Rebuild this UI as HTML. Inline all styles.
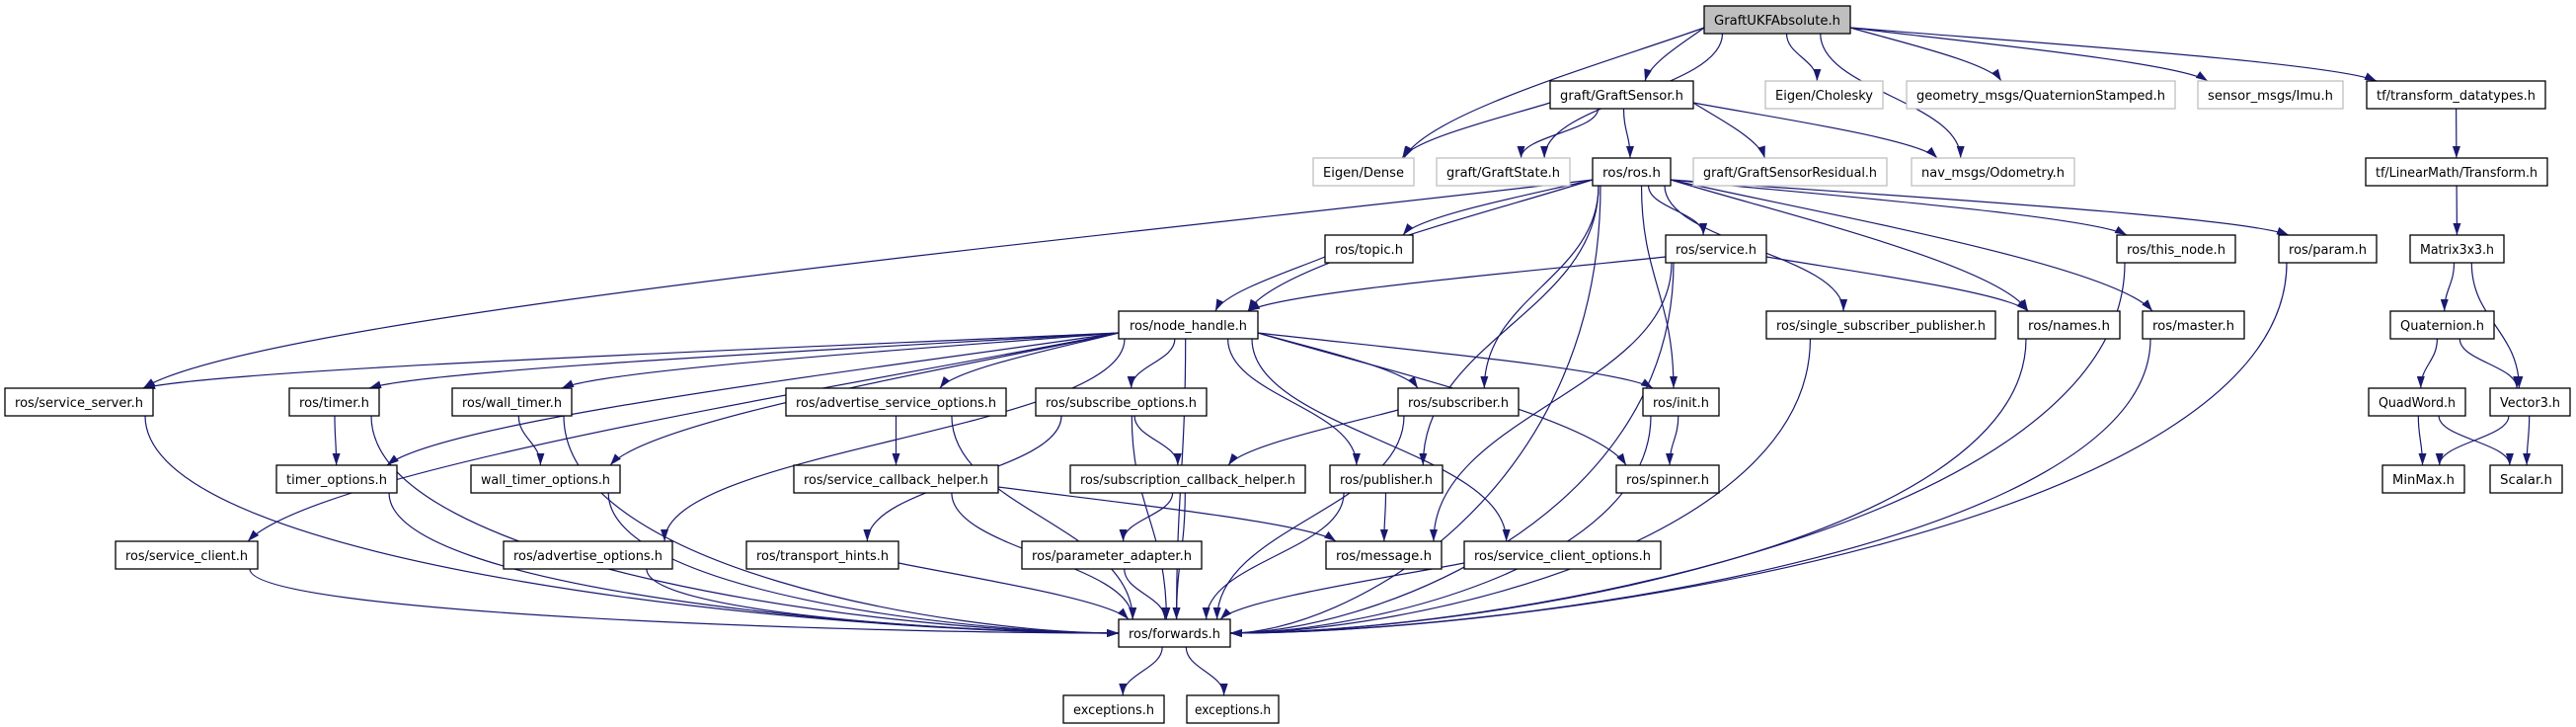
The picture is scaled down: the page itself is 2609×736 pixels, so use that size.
<!DOCTYPE html>
<html><head><meta charset="utf-8"><style>
html,body{margin:0;padding:0;background:#fff;}
svg{display:block}
text{font-family:"DejaVu Sans","Liberation Sans",sans-serif;font-size:13px;fill:#000}
.n{fill:#fff;stroke:#000;stroke-width:1.3}
.g{fill:#fff;stroke:#bfbfbf;stroke-width:1.3}
.r{fill:#bfbfbf;stroke:#000;stroke-width:1.3}
.e{fill:none;stroke:#191970;stroke-width:1.2}
</style></head><body>
<svg id="s" width="2609" height="736" viewBox="0 0 2609 736" xmlns="http://www.w3.org/2000/svg">
<defs><marker id="a" viewBox="0 0 12 8" refX="12" refY="4" markerWidth="12" markerHeight="8" markerUnits="userSpaceOnUse" orient="auto"><path d="M0,0L12,4L0,8z" fill="#191970"/></marker></defs>
<g id="edges"></g>
<g id="nodes">
<rect class="r" x="1726" y="6" width="148" height="28"/><text x="1800" y="25" text-anchor="middle" textLength="128" lengthAdjust="spacingAndGlyphs">GraftUKFAbsolute.h</text>
<rect class="n" x="1570" y="82" width="145" height="28"/><text x="1642.5" y="101" text-anchor="middle" textLength="125" lengthAdjust="spacingAndGlyphs">graft/GraftSensor.h</text>
<rect class="g" x="1788" y="82" width="119" height="28"/><text x="1847.5" y="101" text-anchor="middle" textLength="99" lengthAdjust="spacingAndGlyphs">Eigen/Cholesky</text>
<rect class="g" x="1931" y="82" width="272" height="28"/><text x="2067" y="101" text-anchor="middle" textLength="252" lengthAdjust="spacingAndGlyphs">geometry_msgs/QuaternionStamped.h</text>
<rect class="g" x="2226" y="82" width="147" height="28"/><text x="2299.5" y="101" text-anchor="middle" textLength="127" lengthAdjust="spacingAndGlyphs">sensor_msgs/Imu.h</text>
<rect class="n" x="2397" y="82" width="181" height="28"/><text x="2487.5" y="101" text-anchor="middle" textLength="161" lengthAdjust="spacingAndGlyphs">tf/transform_datatypes.h</text>
<rect class="g" x="1330" y="160" width="102" height="28"/><text x="1381" y="179" text-anchor="middle" textLength="82" lengthAdjust="spacingAndGlyphs">Eigen/Dense</text>
<rect class="g" x="1455" y="160" width="135" height="28"/><text x="1522.5" y="179" text-anchor="middle" textLength="115" lengthAdjust="spacingAndGlyphs">graft/GraftState.h</text>
<rect class="n" x="1613" y="160" width="79" height="28"/><text x="1652.5" y="179" text-anchor="middle" textLength="59" lengthAdjust="spacingAndGlyphs">ros/ros.h</text>
<rect class="g" x="1715" y="160" width="196" height="28"/><text x="1813" y="179" text-anchor="middle" textLength="176" lengthAdjust="spacingAndGlyphs">graft/GraftSensorResidual.h</text>
<rect class="g" x="1936" y="160" width="165" height="28"/><text x="2018.5" y="179" text-anchor="middle" textLength="145" lengthAdjust="spacingAndGlyphs">nav_msgs/Odometry.h</text>
<rect class="n" x="2396" y="160" width="184" height="28"/><text x="2488" y="179" text-anchor="middle" textLength="164" lengthAdjust="spacingAndGlyphs">tf/LinearMath/Transform.h</text>
<rect class="n" x="1342" y="238" width="89" height="28"/><text x="1386.5" y="257" text-anchor="middle" textLength="69" lengthAdjust="spacingAndGlyphs">ros/topic.h</text>
<rect class="n" x="1687" y="238" width="102" height="28"/><text x="1738" y="257" text-anchor="middle" textLength="82" lengthAdjust="spacingAndGlyphs">ros/service.h</text>
<rect class="n" x="2144" y="238" width="120" height="28"/><text x="2204" y="257" text-anchor="middle" textLength="100" lengthAdjust="spacingAndGlyphs">ros/this_node.h</text>
<rect class="n" x="2308" y="238" width="99" height="28"/><text x="2357.5" y="257" text-anchor="middle" textLength="79" lengthAdjust="spacingAndGlyphs">ros/param.h</text>
<rect class="n" x="2441" y="238" width="95" height="28"/><text x="2488.5" y="257" text-anchor="middle" textLength="75" lengthAdjust="spacingAndGlyphs">Matrix3x3.h</text>
<rect class="n" x="1133" y="315" width="141" height="28"/><text x="1203.5" y="334" text-anchor="middle" textLength="119" lengthAdjust="spacingAndGlyphs">ros/node_handle.h</text>
<rect class="n" x="1789" y="315" width="232" height="28"/><text x="1905" y="334" text-anchor="middle" textLength="212" lengthAdjust="spacingAndGlyphs">ros/single_subscriber_publisher.h</text>
<rect class="n" x="2044" y="315" width="103" height="28"/><text x="2095.5" y="334" text-anchor="middle" textLength="83" lengthAdjust="spacingAndGlyphs">ros/names.h</text>
<rect class="n" x="2170" y="315" width="103" height="28"/><text x="2221.5" y="334" text-anchor="middle" textLength="83" lengthAdjust="spacingAndGlyphs">ros/master.h</text>
<rect class="n" x="2421" y="315" width="105" height="28"/><text x="2473.5" y="334" text-anchor="middle" textLength="85" lengthAdjust="spacingAndGlyphs">Quaternion.h</text>
<rect class="n" x="5" y="393" width="150" height="28"/><text x="80" y="412" text-anchor="middle" textLength="130" lengthAdjust="spacingAndGlyphs">ros/service_server.h</text>
<rect class="n" x="293" y="393" width="91" height="28"/><text x="338.5" y="412" text-anchor="middle" textLength="71" lengthAdjust="spacingAndGlyphs">ros/timer.h</text>
<rect class="n" x="458" y="393" width="121" height="28"/><text x="518.5" y="412" text-anchor="middle" textLength="101" lengthAdjust="spacingAndGlyphs">ros/wall_timer.h</text>
<rect class="n" x="796" y="393" width="223" height="28"/><text x="907.5" y="412" text-anchor="middle" textLength="203" lengthAdjust="spacingAndGlyphs">ros/advertise_service_options.h</text>
<rect class="n" x="1049" y="393" width="173" height="28"/><text x="1135.5" y="412" text-anchor="middle" textLength="153" lengthAdjust="spacingAndGlyphs">ros/subscribe_options.h</text>
<rect class="n" x="1416" y="393" width="122" height="28"/><text x="1477" y="412" text-anchor="middle" textLength="102" lengthAdjust="spacingAndGlyphs">ros/subscriber.h</text>
<rect class="n" x="1664" y="393" width="77" height="28"/><text x="1702.5" y="412" text-anchor="middle" textLength="57" lengthAdjust="spacingAndGlyphs">ros/init.h</text>
<rect class="n" x="2399" y="393" width="98" height="28"/><text x="2448" y="412" text-anchor="middle" textLength="78" lengthAdjust="spacingAndGlyphs">QuadWord.h</text>
<rect class="n" x="2522" y="393" width="81" height="28"/><text x="2562.5" y="412" text-anchor="middle" textLength="61" lengthAdjust="spacingAndGlyphs">Vector3.h</text>
<rect class="n" x="280" y="471" width="122" height="28"/><text x="341" y="490" text-anchor="middle" textLength="102" lengthAdjust="spacingAndGlyphs">timer_options.h</text>
<rect class="n" x="477" y="471" width="151" height="28"/><text x="552.5" y="490" text-anchor="middle" textLength="131" lengthAdjust="spacingAndGlyphs">wall_timer_options.h</text>
<rect class="n" x="804" y="471" width="207" height="28"/><text x="907.5" y="490" text-anchor="middle" textLength="187" lengthAdjust="spacingAndGlyphs">ros/service_callback_helper.h</text>
<rect class="n" x="1084" y="471" width="238" height="28"/><text x="1203" y="490" text-anchor="middle" textLength="218" lengthAdjust="spacingAndGlyphs">ros/subscription_callback_helper.h</text>
<rect class="n" x="1347" y="471" width="114" height="28"/><text x="1404" y="490" text-anchor="middle" textLength="94" lengthAdjust="spacingAndGlyphs">ros/publisher.h</text>
<rect class="n" x="1637" y="471" width="104" height="28"/><text x="1689" y="490" text-anchor="middle" textLength="84" lengthAdjust="spacingAndGlyphs">ros/spinner.h</text>
<rect class="n" x="2413" y="471" width="83" height="28"/><text x="2454.5" y="490" text-anchor="middle" textLength="63" lengthAdjust="spacingAndGlyphs">MinMax.h</text>
<rect class="n" x="2522" y="471" width="73" height="28"/><text x="2558.5" y="490" text-anchor="middle" textLength="53" lengthAdjust="spacingAndGlyphs">Scalar.h</text>
<rect class="n" x="117" y="548" width="144" height="28"/><text x="189" y="567" text-anchor="middle" textLength="124" lengthAdjust="spacingAndGlyphs">ros/service_client.h</text>
<rect class="n" x="510" y="548" width="171" height="28"/><text x="595.5" y="567" text-anchor="middle" textLength="151" lengthAdjust="spacingAndGlyphs">ros/advertise_options.h</text>
<rect class="n" x="756" y="548" width="154" height="28"/><text x="833" y="567" text-anchor="middle" textLength="134" lengthAdjust="spacingAndGlyphs">ros/transport_hints.h</text>
<rect class="n" x="1035" y="548" width="182" height="28"/><text x="1126" y="567" text-anchor="middle" textLength="162" lengthAdjust="spacingAndGlyphs">ros/parameter_adapter.h</text>
<rect class="n" x="1343" y="548" width="117" height="28"/><text x="1401.5" y="567" text-anchor="middle" textLength="97" lengthAdjust="spacingAndGlyphs">ros/message.h</text>
<rect class="n" x="1483" y="548" width="199" height="28"/><text x="1582.5" y="567" text-anchor="middle" textLength="179" lengthAdjust="spacingAndGlyphs">ros/service_client_options.h</text>
<rect class="n" x="1133" y="627" width="113" height="28"/><text x="1189.5" y="646" text-anchor="middle" textLength="93" lengthAdjust="spacingAndGlyphs">ros/forwards.h</text>
<rect class="n" x="1077" y="704" width="102" height="28"/><text x="1128" y="723" text-anchor="middle" textLength="82" lengthAdjust="spacingAndGlyphs">exceptions.h</text>
<rect class="n" x="1202" y="704" width="93" height="28"/><text x="1248.5" y="723" text-anchor="middle" textLength="77" lengthAdjust="spacingAndGlyphs">exceptions.h</text>
</g>
</svg>
<script>
var N={root:[1726,1874,6,34],gsensor:[1570,1715,82,110],chol:[1788,1907,82,110],geom:[1931,2203,82,110],imu:[2226,2373,82,110],tfdt:[2397,2578,82,110],
dense:[1330,1432,160,188],gstate:[1455,1590,160,188],ros:[1613,1692,160,188],resid:[1715,1911,160,188],odom:[1936,2101,160,188],transform:[2396,2580,160,188],
topic:[1342,1431,238,266],service:[1687,1789,238,266],thisnode:[2144,2264,238,266],param:[2308,2407,238,266],m3:[2441,2536,238,266],
nh:[1133,1274,315,343],ssp:[1789,2021,315,343],names:[2044,2147,315,343],master:[2170,2273,315,343],quat:[2421,2526,315,343],
ssrv:[5,155,393,421],timer:[293,384,393,421],wtimer:[458,579,393,421],aso:[796,1019,393,421],so:[1049,1222,393,421],sub:[1416,1538,393,421],init:[1664,1741,393,421],qw:[2399,2497,393,421],v3:[2522,2603,393,421],
topt:[280,402,471,499],wtopt:[477,628,471,499],sch:[804,1011,471,499],subch:[1084,1322,471,499],pub:[1347,1461,471,499],spin:[1637,1741,471,499],minmax:[2413,2496,471,499],scalar:[2522,2595,471,499],
sclient:[117,261,548,576],ao:[510,681,548,576],th:[756,910,548,576],pa:[1035,1217,548,576],msg:[1343,1460,548,576],sco:[1483,1682,548,576],
fwd:[1133,1246,627,655],ex1:[1077,1179,704,732],ex2:[1202,1295,704,732]};
var E="root-gsensor root-dense root-gstate root-chol root-geom root-imu root-tfdt root-odom gsensor-dense gsensor-gstate gsensor-ros gsensor-resid gsensor-odom tfdt-transform transform-m3 m3-quat m3-v3 quat-qw quat-v3 qw-minmax qw-scalar v3-minmax v3-scalar ros-nh ros-topic ros-service ros-ssrv ros-sub ros-pub ros-init ros-ssp ros-names ros-master ros-thisnode ros-param ros-fwd topic-nh service-nh service-names service-msg service-fwd thisnode-fwd param-fwd master-fwd names-fwd ssp-fwd nh-ssrv nh-timer nh-wtimer nh-topt nh-wtopt nh-sclient nh-ao nh-aso nh-so nh-sub nh-pub nh-init nh-spin nh-fwd nh-sco ssrv-fwd timer-topt timer-fwd wtimer-wtopt wtimer-fwd topt-fwd wtopt-fwd sclient-fwd ao-fwd aso-sch aso-fwd so-th so-subch so-fwd sch-fwd sch-msg subch-pa subch-fwd th-fwd pa-fwd sub-subch sub-fwd pub-msg pub-fwd init-spin init-fwd sco-fwd fwd-ex1 fwd-ex2".split(" ");
function cl(v,a,b){return Math.max(a,Math.min(b,v));}
var h="";
E.forEach(function(e){var p=e.split("-"),s=N[p[0]],t=N[p[1]];
var scx=(s[0]+s[1])/2,tcx=(t[0]+t[1])/2,dx=tcx-scx,dy=t[2]-s[3];
var sx,sy,tx,ty,d;
if(p[1]=="fwd"&&Math.abs(dx)>400){
  sx=cl(scx+dx*0.1,s[0]+8,s[1]-8);sy=s[3];
  tx=dx>0?t[0]:t[1];ty=(t[2]+t[3])/2;
  d="M"+sx+","+sy+" C"+sx+","+(sy+(ty-sy)*0.7)+" "+(tx-(tx-sx)*0.3)+","+ty+" "+tx+","+ty;
}else if(Math.abs(dx)>3*dy){
  sx=dx>0?s[1]:s[0];sy=s[3]-6;
  tx=cl(tcx-dx*0.15,t[0]+10,t[1]-10);ty=t[2];
  d="M"+sx+","+sy+" C"+(sx+(tx-sx)*0.3)+","+(sy+(ty-sy)*0.25)+" "+(tx-(tx-sx)*0.08)+","+(ty-(ty-sy)*0.35)+" "+tx+","+ty;
}else{
  sx=cl(scx+dx*0.2,s[0]+6,s[1]-6);sy=s[3];
  tx=cl(tcx-dx*0.15,t[0]+8,t[1]-8);ty=t[2];
  d="M"+sx+","+sy+" C"+sx+","+(sy+dy*0.45)+" "+tx+","+(ty-dy*0.45)+" "+tx+","+ty;
}
h+='<path class="e" marker-end="url(#a)" d="'+d+'"/>';});
document.getElementById("edges").innerHTML=h;
</script>
</body></html>
